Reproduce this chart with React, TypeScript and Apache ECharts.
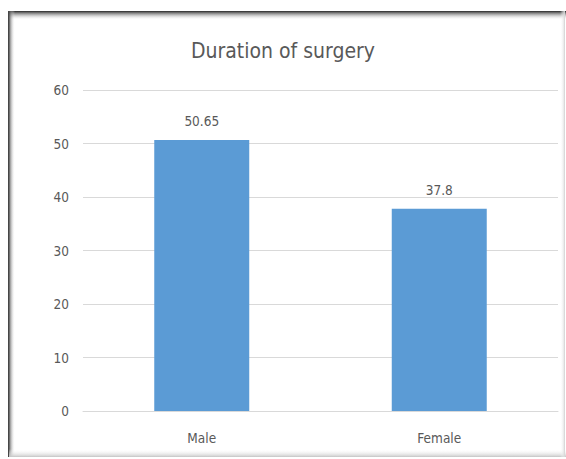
import React, { useEffect, useRef } from "react";
import * as echarts from "echarts";

const titleText = "Duration of surgery";
const categories = ["Male", "Female"];
const values = [50.65, 37.8];
const yMin = 0;
const yMax = 60;
const yStep = 10;

const FONT = "'DejaVu Sans Condensed', 'Liberation Sans', sans-serif";
const TEXT = "#595959";

export default function App() {
  const ref = useRef<HTMLDivElement>(null);
  useEffect(() => {
    if (!ref.current) return;
    const chart = echarts.init(ref.current, undefined, { renderer: "svg" });
    const lg = (x1: number, y1: number, x2: number, y2: number, c1: string, c2: string) =>
      new echarts.graphic.LinearGradient(x1, y1, x2, y2, [
        { offset: 0, color: c1 },
        { offset: 1, color: c2 },
      ]);
    chart.setOption({
      animation: false,
      backgroundColor: "#ffffff",
      title: {
        text: titleText,
        left: "center",
        top: 35,
        textStyle: { fontFamily: FONT, fontSize: 21, fontWeight: "normal", color: TEXT },
      },
      grid: { left: 83, right: 8, top: 90, bottom: 48, containLabel: false },
      xAxis: {
        type: "category",
        data: categories,
        axisLine: { show: true, lineStyle: { color: "#D9D9D9", width: 1 } },
        axisTick: { show: false },
        axisLabel: { fontFamily: FONT, fontSize: 13.5, color: TEXT, margin: 20 },
      },
      yAxis: {
        type: "value",
        min: yMin,
        max: yMax,
        interval: yStep,
        axisLine: { show: false },
        axisTick: { show: false },
        splitLine: { lineStyle: { color: "#D9D9D9", width: 1 } },
        axisLabel: { fontFamily: FONT, fontSize: 13.5, color: TEXT, margin: 14 },
      },
      series: [
        {
          type: "bar",
          data: values,
          barWidth: "40%",
          itemStyle: { color: "#5B9BD5" },
          label: {
            show: true,
            position: "top",
            distance: 12,
            fontFamily: FONT,
            fontSize: 13.5,
            color: TEXT,
          },
        },
      ],
      graphic: [
        { type: "rect", silent: true, shape: { x: 9.5, y: 11.5, width: 555, height: 445 }, style: { fill: "none", stroke: "#cfcfcf", lineWidth: 1 } },
        { type: "rect", silent: true, shape: { x: 9, y: 11, width: 557, height: 9 }, style: { fill: lg(0, 0, 0, 1, "rgba(40,40,40,1)", "rgba(255,255,255,0)") } },
        { type: "rect", silent: true, shape: { x: 8, y: 11, width: 7, height: 446 }, style: { fill: lg(0, 0, 1, 0, "rgba(40,40,40,1)", "rgba(255,255,255,0)") } },
        { type: "rect", silent: true, shape: { x: 9, y: 449, width: 557, height: 8 }, style: { fill: lg(0, 0, 0, 1, "rgba(255,255,255,0)", "rgba(200,200,200,1)") } },
        { type: "rect", silent: true, shape: { x: 560, y: 11, width: 5, height: 446 }, style: { fill: lg(0, 0, 1, 0, "rgba(255,255,255,0)", "rgba(215,215,215,1)") } },
      ],
    });
    return () => chart.dispose();
  }, []);
  return (
    <div
      ref={ref}
      style={{ position: "fixed", left: 0, top: 0, width: 566, height: 459 }}
    />
  );
}
